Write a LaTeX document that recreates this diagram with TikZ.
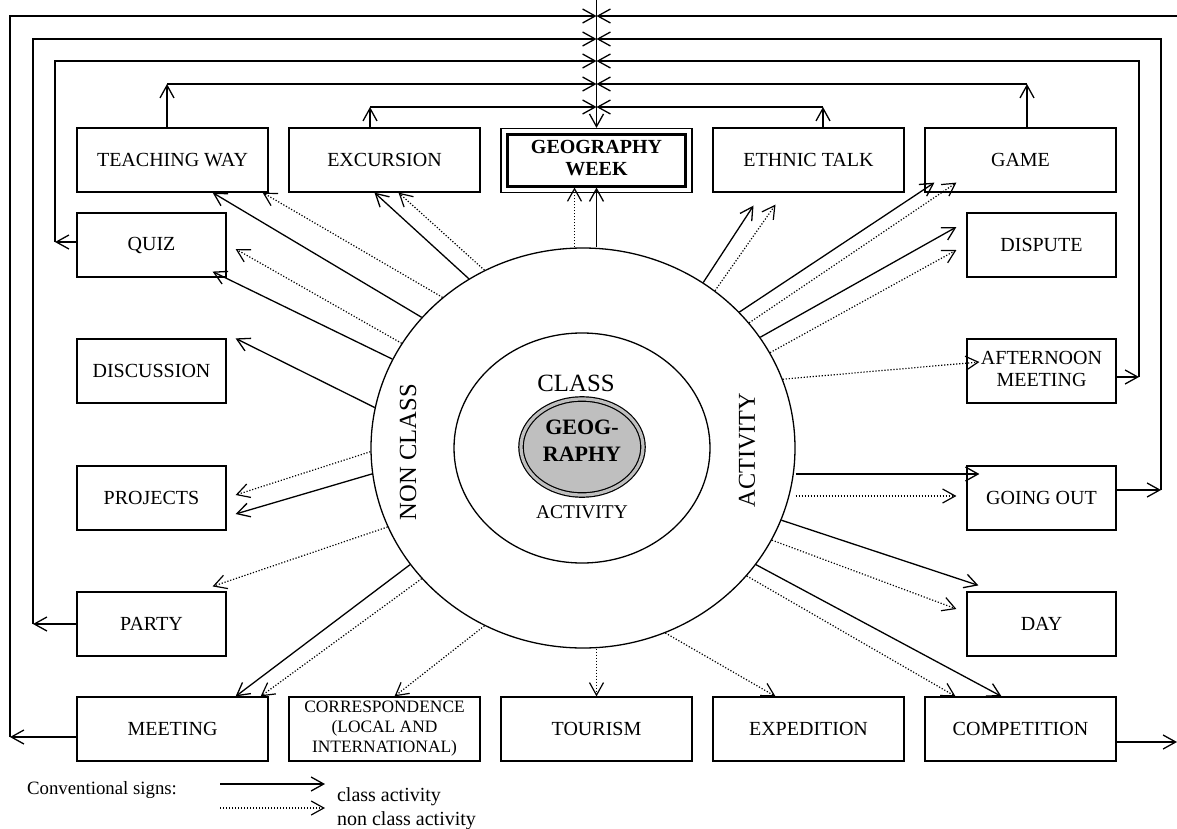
\documentclass[tikz,border=0pt]{standalone}
\usepackage{fontspec}
\setmainfont{Liberation Serif}
\usetikzlibrary{shapes.geometric, arrows.meta, calc}

\begin{document}
\begin{tikzpicture}[x=0.5pt, y=-0.5pt,
  box/.style={draw, line width=0.6pt, minimum width=95.5pt, minimum height=32pt, inner sep=1pt, align=center, font=\fontsize{10}{11}\selectfont},
  sidebox/.style={box, minimum width=74.5pt},
  cls/.style={-{Straight Barb[length=6.3pt,width=7pt]}, line width=0.65pt},
  ncls/.style={cls, line width=0.6pt, dash pattern=on 0.6pt off 0.9pt}]
\useasboundingbox (0,0) rectangle (1177,829);

% Circles
\node[ellipse, draw, line width=0.65pt, minimum width=212pt, minimum height=200pt] (outer) at (583,448) {};
\node[ellipse, draw, line width=0.65pt, minimum width=128pt, minimum height=115pt] (inner) at (582,448) {};
\node[ellipse, draw, line width=0.6pt, double=gray!50, double distance=1.6pt, fill=gray!50, minimum width=61pt, minimum height=48pt] (geo) at (582,447) {};
\node[align=center, font=\fontsize{11}{13.5}\selectfont\bfseries] (geotxt) at (582,440.5) {GEOG-\\RAPHY};
\node[font=\fontsize{12.4}{14}\selectfont] (cl) at (576,383) {CLASS};
\node[font=\fontsize{9.7}{11}\selectfont] (act) at (582,512) {ACTIVITY};
\node[rotate=90, font=\fontsize{12.3}{14}\selectfont] (nc) at (408,452) {NON CLASS};
\node[rotate=90, font=\fontsize{12.1}{14}\selectfont] (ac) at (747,450) {ACTIVITY};

% Top row
\node[box] (teach) at (172.5,160) {TEACHING WAY};
\node[box] (exc) at (384.5,160) {EXCURSION};
\node[box] (gwout) at (596.5,160.5) {};
\node[box, line width=1.5pt, minimum width=89pt, minimum height=25.75pt, font=\fontsize{10}{11}\selectfont\bfseries] (gw) at (596.5,160.25) {\raisebox{1.5pt}{\begin{tabular}{@{}c@{}}GEOGRAPHY\\WEEK\end{tabular}}};
\node[box] (ethnic) at (808.5,160) {ETHNIC TALK};
\node[box] (game) at (1020.5,160) {GAME};

% Left column
\node[sidebox] (quiz) at (151.5,245) {QUIZ};
\node[sidebox] (disc) at (151.5,371) {DISCUSSION};
\node[sidebox] (proj) at (151.5,498) {PROJECTS};
\node[sidebox] (party) at (151.5,624) {PARTY};

% Right column
\node[sidebox] (dispute) at (1041.5,245) {DISPUTE};
\node[sidebox] (aftern) at (1041.5,371) {\raisebox{3pt}{\begin{tabular}{@{}c@{}}AFTERNOON\\MEETING\end{tabular}}};
\node[sidebox] (going) at (1041.5,498) {GOING OUT};
\node[sidebox] (day) at (1041.5,624) {DAY};

% Bottom row
\node[box] (meeting) at (172.5,729) {MEETING};
\node[box, font=\fontsize{8.7}{10}\selectfont] (corr) at (384.5,729) {CORRESPONDENCE\\(LOCAL AND\\INTERNATIONAL)};
\node[box] (tourism) at (596.5,729) {TOURISM};
\node[box] (exped) at (808.5,729) {EXPEDITION};
\node[box] (comp) at (1020.5,729) {COMPETITION};

% Arrows to the top row
\draw[cls] (outer.141.8) -- ($(teach.south east)+(-56,0)$);
\draw[ncls] (outer.133.1) -- ($(teach.south east)+(-6,0)$);
\draw[cls] (outer.124.6) -- ($(exc.south)+(-10,0)$);
\draw[ncls] (outer.119.6) -- ($(exc.south)+(14,0)$);
\coordinate (gwd) at ($(gw.south)+(-22,0)$);
\draw[cls] (gw.south |- outer.north) -- (gw.south);
\draw[ncls] (gwd |- outer.north) -- (gwd);
\draw[cls] (outer.54.4) -- ($(ethnic.south)+(-55,13)$);
\draw[ncls] (outer.50.7) -- ($(ethnic.south)+(-33,12)$);
\draw[cls] (outer.41.5) -- ($(game.south west)+(10,-10)$);
\draw[ncls] (outer.37.6) -- ($(game.south west)+(32,-10)$);

% Arrows to the right column
\draw[cls] (outer.32.6) -- ($(dispute.west)+(-10,-18)$);
\draw[ncls] (outer.27.4) -- ($(dispute.west)+(-10,5)$);
\draw[ncls] (outer.19) -- ($(aftern.west)+(13,-9)$);
\coordinate (go1) at ($(going.west)+(13,-24)$);
\coordinate (go2) at ($(going.west)+(-10,-2)$);
\draw[cls] (outer.east |- go1) -- (go1);
\draw[ncls] (outer.east |- go2) -- (go2);
\draw[cls] (outer.-20.6) -- ($(day.north west)+(12,-6)$);
\draw[ncls] (outer.-26.9) -- ($(day.west)+(-10,-15)$);

% Arrows to the bottom row
\draw[cls] (outer.-34.2) -- ($(comp.north)+(-19,0)$);
\draw[ncls] (outer.-38.1) -- ($(comp.north)+(-65,0)$);
\draw[ncls] (outer.-66.2) -- ($(exped.north)+(-33,0)$);
\draw[ncls] (tourism.north |- outer.south) -- (tourism.north);
\draw[ncls] (outer.241.5) -- ($(corr.north)+(10,0)$);
\draw[cls] (outer.214.2) -- ($(meeting.north east)+(-33,0)$);
\draw[ncls] (outer.219.9) -- ($(meeting.north east)+(-8,0)$);

% Arrows to the left column
\draw[ncls] (outer.202) -- ($(party.north east)+(-14,-5)$);
\draw[cls] (outer.187) -- ($(proj.east)+(9,16)$);
\draw[ncls] (outer.181) -- ($(proj.east)+(9,-3)$);
\draw[cls] (outer.169) -- ($(disc.north east)+(9,0)$);
\draw[cls] (outer.155.5) -- ($(quiz.south east)+(-14,-6)$);
\draw[ncls] (outer.150) -- ($(quiz.east)+(9,4)$);

% Lines into geography week
\coordinate (ctop) at (596.5,0);
\coordinate (l1) at (596.5,16);
\coordinate (l2) at (596.5,39);
\coordinate (l3) at (596.5,61);
\coordinate (l4) at (596.5,84);
\coordinate (l5) at (596.5,107);
\coordinate (c1) at (10,16);
\coordinate (c2) at (33,39);
\coordinate (c3) at (55,61);
\coordinate (r1) at (1177,16);
\coordinate (r2) at (1161,39);
\coordinate (r3) at (1139,61);
\draw[cls] (ctop) -- (gwout.north);

\coordinate (mw) at ($(meeting.west)+(0,8)$);
\draw[cls] (mw) -- (mw -| c1);
\draw[cls] (mw -| c1) |- (l1);
\coordinate (ce) at ($(comp.east)+(0,13)$);
\draw[cls] (ce) -- (ce -| r1);
\draw[cls] (r1) -- (l1);

\draw[cls] (party.west) -- (party.west -| c2);
\draw[cls] (party.west -| c2) |- (l2);
\coordinate (ge) at ($(going.east)+(0,-8)$);
\draw[cls] (ge) -- (ge -| r2);
\draw[cls] (ge -| r2) |- (l2);

\coordinate (qw) at ($(quiz.west)+(0,-3)$);
\draw[cls] (qw) -- (qw -| c3);
\draw[cls] (qw -| c3) |- (l3);
\coordinate (ae) at ($(aftern.east)+(0,6)$);
\draw[cls] (ae) -- (ae -| r3);
\draw[cls] (ae -| r3) |- (l3);

\coordinate (t4) at ($(teach.north)+(-5.5,0)$);
\draw[cls] (t4) -- (t4 |- l4);
\draw[cls] (t4 |- l4) -- (l4);
\coordinate (g4) at ($(game.north)+(6.5,0)$);
\draw[cls] (g4) -- (g4 |- l4);
\draw[cls] (g4 |- l4) -- (l4);

\coordinate (x5) at ($(exc.north)+(-14.5,0)$);
\draw[cls] (x5) -- (x5 |- l5);
\draw[cls] (x5 |- l5) -- (l5);
\coordinate (e5) at ($(ethnic.north)+(14.5,0)$);
\draw[cls] (e5) -- (e5 |- l5);
\draw[cls] (e5 |- l5) -- (l5);

% Legend
\node[anchor=west, font=\fontsize{9.4}{11}\selectfont] (signs) at (20,790) {Conventional signs:};
\coordinate (ls1) at (220,784);
\coordinate (le1) at (325,784);
\coordinate (ls2) at (220,808);
\coordinate (le2) at (325,808);
\draw[cls] (ls1) -- (le1);
\draw[ncls] (ls2) -- (le2);
\node[anchor=west, font=\fontsize{10}{11}\selectfont] (lcls) at (330,797) {class activity};
\node[anchor=west, font=\fontsize{10}{11}\selectfont] (lncls) at (330,821) {non class activity};
\end{tikzpicture}
\end{document}
